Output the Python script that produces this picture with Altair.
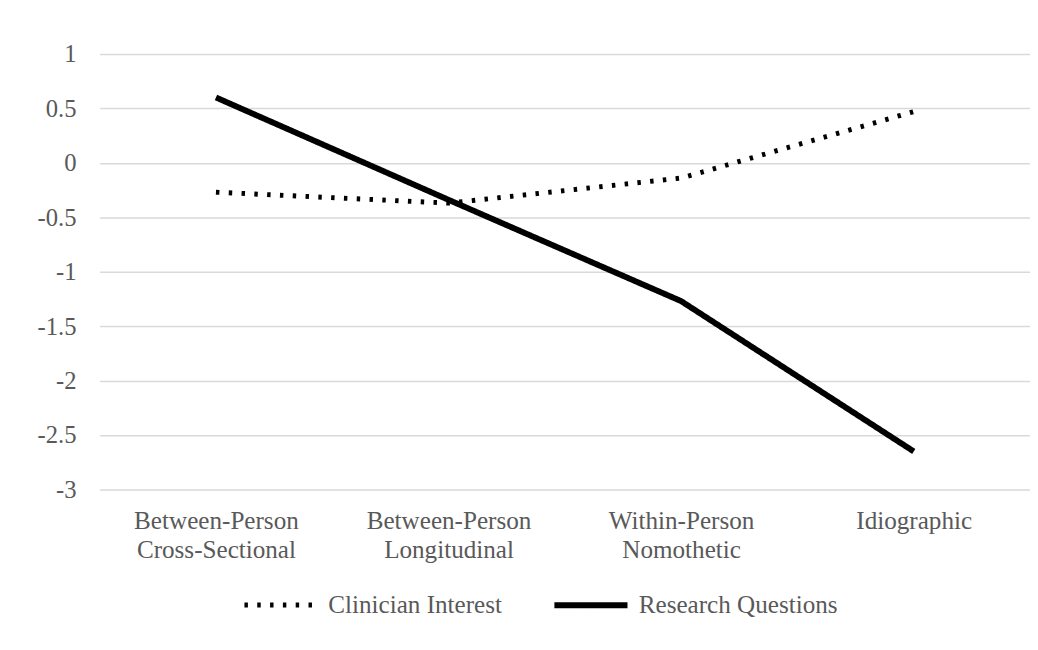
import altair as alt
import pandas as pd

categories = ["Between-Person Cross-Sectional", "Between-Person Longitudinal",
              "Within-Person Nomothetic", "Idiographic"]
clinician_interest = [-0.27, -0.37, -0.14, 0.47]
research_questions = [0.60, -0.34, -1.27, -2.65]
series_names = ["Clinician Interest", "Research Questions"]
y_ticks = [1, 0.5, 0, -0.5, -1, -1.5, -2, -2.5, -3]

rows = []
for c, v in zip(categories, clinician_interest):
    rows.append({"cat": c, "value": v, "series": series_names[0]})
for c, v in zip(categories, research_questions):
    rows.append({"cat": c, "value": v, "series": series_names[1]})
df = pd.DataFrame(rows)

FONT = "Liberation Serif"
TXT = "#595959"

chart = alt.Chart(df).mark_line(interpolate="linear", strokeJoin="round").encode(
    x=alt.X("cat:N", sort=categories, title=None,
            scale=alt.Scale(paddingInner=0, paddingOuter=0.5),
            axis=alt.Axis(labelAngle=0, labelExpr="split(datum.label, ' ')", domain=False, ticks=False,
                          grid=False, labelFont=FONT, labelFontSize=25.5, labelColor=TXT,
                          labelPadding=20, labelLineHeight=29, labelBaseline="top")),
    y=alt.Y("value:Q", title=None,
            scale=alt.Scale(domain=[-3, 1], nice=False, zero=False),
            axis=alt.Axis(values=y_ticks, labelExpr="'' + datum.value", domain=False, ticks=False,
                          gridColor="#d9d9d9", gridWidth=1.5, labelFont=FONT, labelFontSize=25,
                          labelColor=TXT, labelPadding=24)),
    strokeDash=alt.StrokeDash("series:N", sort=series_names,
                              scale=alt.Scale(domain=series_names, range=[[3.5, 9.5], [1, 0]]),
                              legend=alt.Legend(title=None, orient="none", direction="horizontal",
                                                legendX=144, legendY=519,
                                                labelFont=FONT, labelFontSize=25.5, labelColor=TXT,
                                                labelLimit=0,
                                                symbolType="stroke", symbolSize=5500,
                                                symbolStrokeWidth=6, symbolStrokeColor="black",
                                                labelOffset=8, columnPadding=40)),
    strokeWidth=alt.StrokeWidth("series:N", sort=series_names,
                                scale=alt.Scale(domain=series_names, range=[5, 6]), legend=None),
    color=alt.value("black"),
).properties(
    width=944, height=442,
    autosize=alt.AutoSizeParams(type="none"),
    padding={"left": 93, "top": 42, "right": 0, "bottom": 140},
).configure_view(stroke=None)

chart.save("out.html", embed_options={"renderer": "svg", "actions": False})
